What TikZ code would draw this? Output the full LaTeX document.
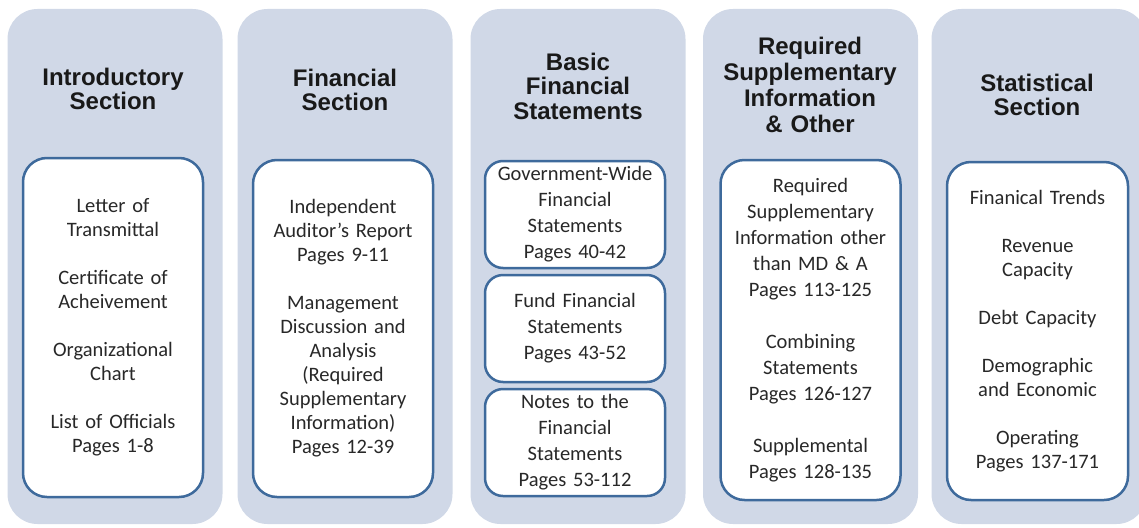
\documentclass[tikz,border=0pt]{standalone}
\usepackage{fontspec}
\setmainfont{Carlito}
\newfontfamily\headfont{Liberation Sans}
\usetikzlibrary{positioning}
\definecolor{panelgray}{RGB}{208,216,231}
\definecolor{edgeblue}{RGB}{62,106,156}
\definecolor{bodytext}{RGB}{40,40,40}

\begin{document}
\begin{tikzpicture}[
    x=1pt, y=-1pt,
    panel/.style={fill=panelgray, rectangle, rounded corners=30pt, minimum width=215pt, minimum height=515pt, inner sep=0pt},
    head/.style={text width=210pt, align=center, text=black!90, font=\headfont\bfseries\fontsize{24}{24.5}\selectfont},
    card/.style={draw=edgeblue, line width=2.5pt, fill=white, rectangle, rounded corners=24pt, minimum width=180pt, text width=172pt, align=center, inner sep=0pt, text=bodytext, font=\fontsize{20.5}{24}\selectfont},
    tall/.style={card, minimum height=338pt},
    short/.style={card, minimum height=107pt, rounded corners=18pt, font=\fontsize{20.5}{26}\selectfont}
  ]
  \useasboundingbox (0,0) rectangle (1139,527);
  \clip (0,0) rectangle (1139,527);

  % background panels
  \node[panel] (intro) at (115,266.5) {};
  \node[panel] (fin) at (345,266.5) {};
  \node[panel] (basic) at (578,266.5) {};
  \node[panel] (rsi) at (810.5,266.5) {};
  \node[panel] (stat) at (1039,266.5) {};

  % headings
  \node[head] (introhead) at (113,89) {Introductory\\Section};
  \node[head] (finhead) at (345,90) {Financial\\Section};
  \node[head] (basichead) at (578,86) {Basic\\Financial\\Statements};
  \node[head, font=\headfont\bfseries\fontsize{24}{25.8}\selectfont] (rsihead) at (810,85) {Required\\Supplementary\\Information\\\& Other};
  \node[head] (stathead) at (1037,95) {Statistical\\Section};

  % content boxes
  \node[tall, minimum height=339pt] (introbox) at (113,327.5) {Letter of\\Transmittal\\[24pt]Certificate of\\Acheivement\\[24pt]Organizational\\Chart\\[24pt]List of Officials\\Pages 1-8};
  \node[tall, minimum height=337pt] (finbox) at (343,328.5) {Independent\\Auditor's Report\\Pages 9-11\\[24pt]Management\\Discussion and\\Analysis\\(Required\\Supplementary\\Information)\\Pages 12-39};
  \node[short] (gwbox) at (575,214.5) {Government-Wide\\Financial\\Statements\\Pages 40-42};
  \node[short, below=4.5pt of gwbox] (fundbox) {Fund Financial\\Statements\\Pages 43-52};
  \node[short, below=4.5pt of fundbox] (notesbox) {Notes to the\\Financial\\Statements\\Pages 53-112};
  \node[tall, minimum height=340pt, font=\fontsize{20.5}{26}\selectfont] (rsibox) at (810.5,330) {Required\\Supplementary\\Information other\\than MD \& A\\Pages 113-125\\[26pt]Combining\\Statements\\Pages 126-127\\[26pt]Supplemental\\Pages 128-135};
  \node[tall, minimum width=181pt] (statbox) at (1037.5,331) {Finanical Trends\\[24pt]Revenue\\Capacity\\[24pt]Debt Capacity\\[24pt]Demographic\\and Economic\\[24pt]Operating\\Pages 137-171};
\end{tikzpicture}
\end{document}
